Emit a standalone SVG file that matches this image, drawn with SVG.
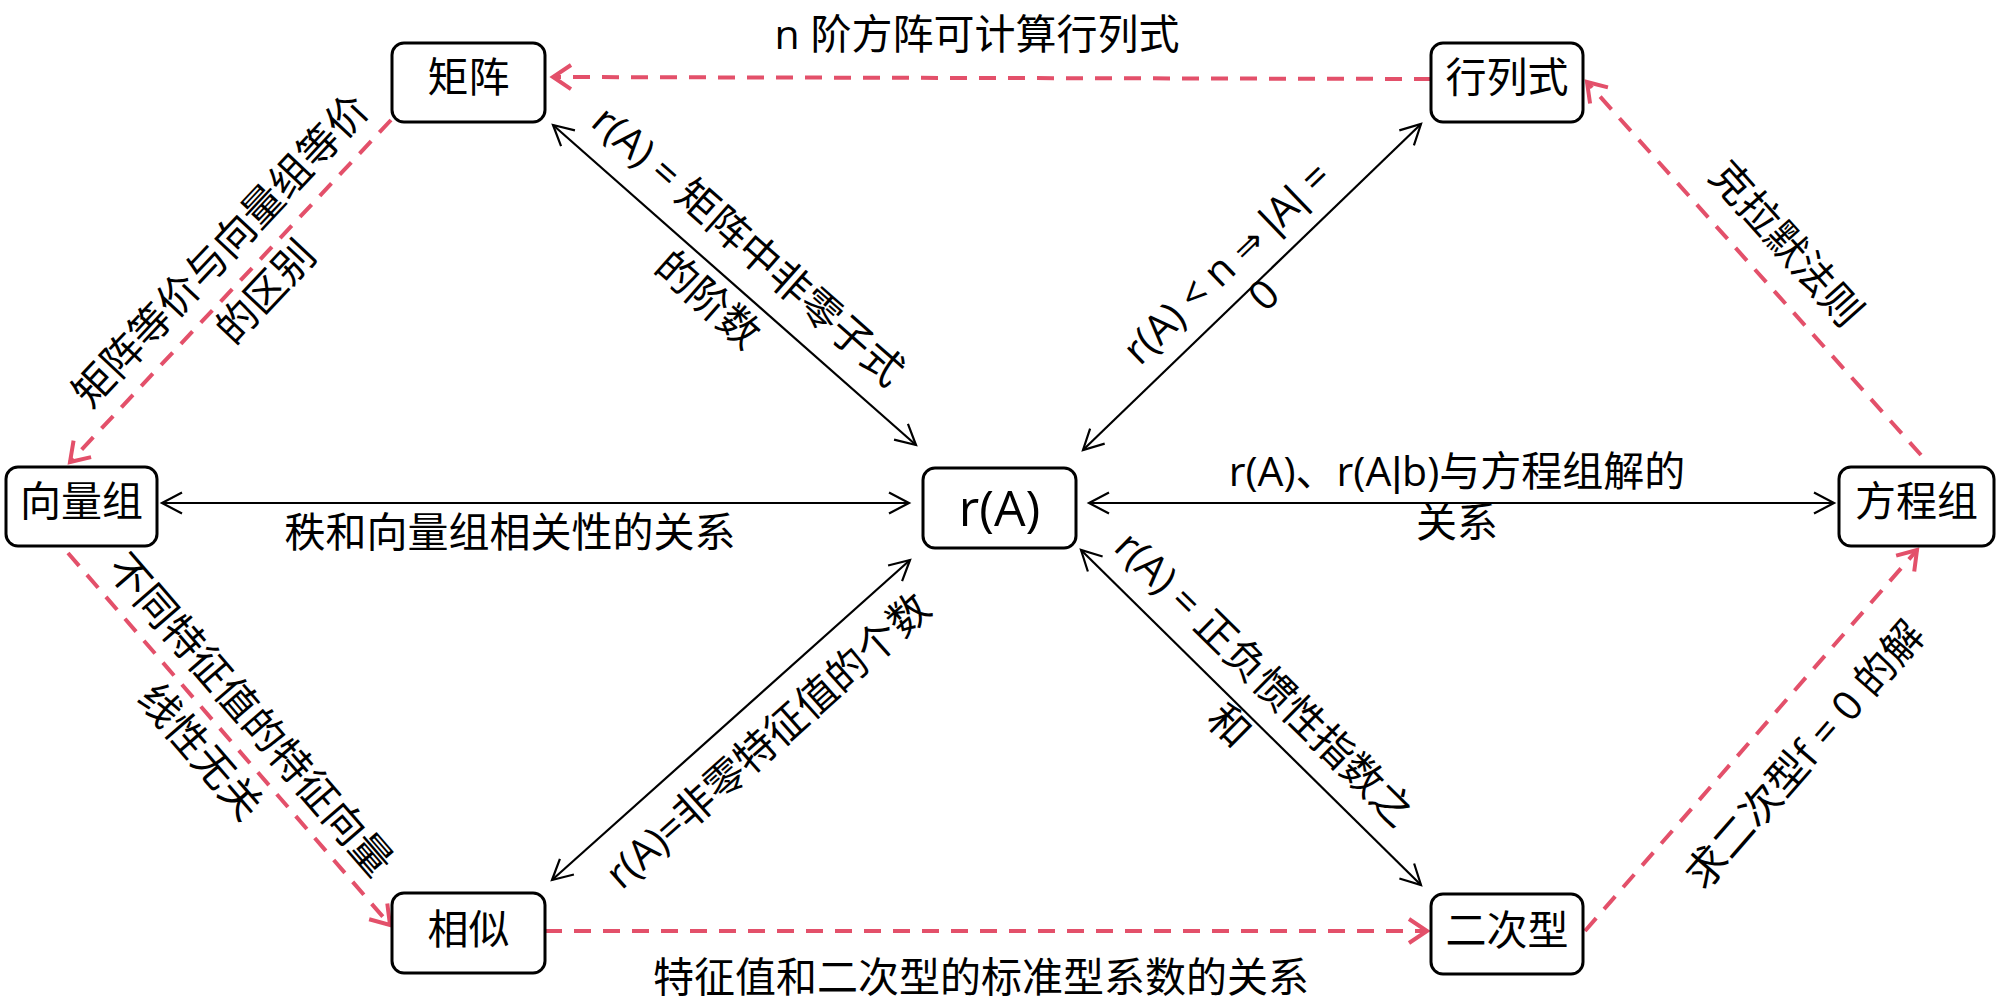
<svg xmlns="http://www.w3.org/2000/svg" width="2000" height="1006" viewBox="0 0 2000 1006">
<style>
.box{fill:#fff;stroke:#000;stroke-width:3}
.nt{font-family:"Open Sans","Noto Sans CJK SC",sans-serif;font-size:41px;fill:#000;text-anchor:middle}
.lb{font-family:"Open Sans","Noto Sans CJK SC",sans-serif;font-size:41px;fill:#000;text-anchor:middle}
.bar{font-family:"Liberation Sans",sans-serif}
.sym{font-family:"DejaVu Sans",sans-serif;font-size:36px}
.bk{fill:none;stroke:#000;stroke-width:2.2;marker-start:url(#ak);marker-end:url(#ak)}
.rd{fill:none;stroke:#E3506A;stroke-width:4;stroke-dasharray:17 12;marker-end:url(#ar)}
</style>
<defs>
<marker id="ak" viewBox="-24 -14 28 28" refX="0" refY="0" markerWidth="28" markerHeight="28" markerUnits="userSpaceOnUse" orient="auto-start-reverse">
<path d="M-20,-10.5 L0,0 L-20,10.5" fill="none" stroke="#000" stroke-width="2.2" stroke-dasharray="none"/>
</marker>
<marker id="ar" viewBox="-24 -16 30 32" refX="0" refY="0" markerWidth="30" markerHeight="32" markerUnits="userSpaceOnUse" orient="auto">
<path d="M-18,-12 L0,0 L-18,12" fill="none" stroke="#E3506A" stroke-width="4" stroke-dasharray="none"/>
</marker>
</defs>
<rect width="2000" height="1006" fill="#fff"/>
<g id="connectors">
<path class="rd" d="M1431,79 L553,77"/>
<path class="rd" d="M391,120 L70,462"/>
<path class="rd" d="M68,553 L390,925"/>
<path class="rd" d="M545,931 L1427,931"/>
<path class="rd" d="M1585,931 L1917,550"/>
<path class="rd" d="M1921,455 L1587,82"/>
<path class="bk" d="M553,125 L916,445"/>
<path class="bk" d="M1421,124 L1083,450"/>
<path class="bk" d="M1089,503 L1834,503"/>
<path class="bk" d="M162,503 L909,503"/>
<path class="bk" d="M910,560 L552,880"/>
<path class="bk" d="M1081,550 L1421,885"/>
</g>
<g id="labels">
<text class="lb" x="977" y="49">n 阶方阵可计算行列式</text>
<text class="lb" transform="translate(221,251) rotate(-46.8)" y="14">矩阵等价与向量组等价</text>
<text class="lb" transform="translate(266,292) rotate(-46.8)" y="14">的区别</text>
<text class="lb" transform="translate(748,246) rotate(41.4)" y="14">r(A) = 矩阵中非零子式</text>
<text class="lb" transform="translate(708,300) rotate(41.4)" y="14">的阶数</text>
<text class="lb" transform="translate(1227,263) rotate(-44)" y="14">r(A) &lt; n <tspan class="sym">⇒</tspan> <tspan class="bar">|</tspan>A<tspan class="bar">|</tspan> =</text>
<text class="lb" transform="translate(1264,295) rotate(-44)" y="14">0</text>
<text class="lb" transform="translate(1786,244) rotate(48.2)" y="14">克拉默法则</text>
<text class="lb" x="1457" y="486">r(A)、r(A<tspan class="bar">|</tspan>b)与方程组解的</text>
<text class="lb" x="1457" y="537">关系</text>
<text class="lb" x="510" y="547">秩和向量组相关性的关系</text>
<text class="lb" transform="translate(250,715) rotate(49.1)" y="14">不同特征值的特征向量</text>
<text class="lb" transform="translate(200,752) rotate(49.1)" y="14">线性无关</text>
<text class="lb" transform="translate(768,741) rotate(-41.8)" y="14">r(A)=非零特征值的个数</text>
<text class="lb" transform="translate(1264,679) rotate(44.6)" y="14">r(A) = 正负惯性指数之</text>
<text class="lb" transform="translate(1229,726) rotate(44.6)" y="14">和</text>
<text class="lb" transform="translate(1805,755) rotate(-48.9)" y="14">求二次型f = 0 的解</text>
<text class="lb" x="981" y="992">特征值和二次型的标准型系数的关系</text>
</g>
<g id="node-juzhen"><rect class="box" x="392" y="43" width="153" height="79" rx="12"/><text class="nt" x="468.5" y="92">矩阵</text></g>
<g id="node-hanglieshi"><rect class="box" x="1431" y="43" width="152" height="79" rx="12"/><text class="nt" x="1507" y="92">行列式</text></g>
<g id="node-xiangliangzu"><rect class="box" x="6" y="467" width="151" height="79" rx="12"/><text class="nt" x="81.5" y="516">向量组</text></g>
<g id="node-rA"><rect class="box" x="923" y="468" width="153" height="80" rx="12"/><text class="nt" x="999.5" y="526" style="font-size:50px">r(A)</text></g>
<g id="node-fangchengzu"><rect class="box" x="1839" y="467" width="155" height="79" rx="12"/><text class="nt" x="1916.5" y="516">方程组</text></g>
<g id="node-xiangsi"><rect class="box" x="392" y="893" width="153" height="80" rx="12"/><text class="nt" x="468.5" y="944">相似</text></g>
<g id="node-erci"><rect class="box" x="1431" y="894" width="152" height="80" rx="12"/><text class="nt" x="1507" y="945">二次型</text></g>
</svg>
